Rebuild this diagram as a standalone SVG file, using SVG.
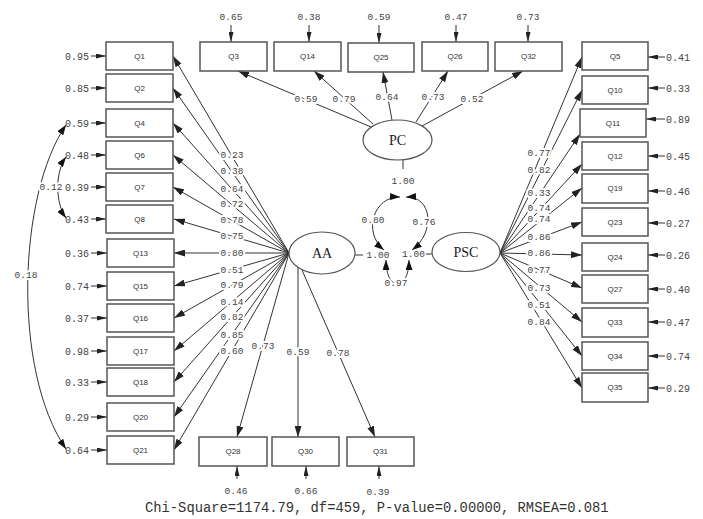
<svg xmlns="http://www.w3.org/2000/svg" width="703" height="519" viewBox="0 0 703 519">
  <style>
    .box { fill: #fff; stroke: #555; stroke-width: 1.5; }
    .lv { fill: #fff; stroke: #555; stroke-width: 1.2; }
    .bt { font-family: "Liberation Sans", Arial, sans-serif; font-size: 8px; fill: #333; text-anchor: middle; }
    .lt { font-family: "Liberation Serif", "Times New Roman", serif; font-size: 14px; fill: #222; text-anchor: middle; }
    .ln { fill: none; stroke: #333; stroke-width: 1; }
    .n { font-family: "Liberation Mono", "Courier New", monospace; font-size: 9.5px; fill: #444; text-anchor: middle; }
    .e { font-family: "Liberation Mono", "Courier New", monospace; font-size: 10px; fill: #444; }
    .h { paint-order: stroke; stroke: #fff; stroke-width: 4px; stroke-linejoin: round; }
    .fit { font-family: "Liberation Mono", "Courier New", monospace; font-size: 13.8px; fill: #333; }
  </style>
  <defs>
    <marker id="a" markerUnits="userSpaceOnUse" markerWidth="11" markerHeight="7" viewBox="0 0 11 7" refX="11" refY="3.5" orient="auto">
      <path d="M0,0 L11,3.5 L0,7 z" fill="#222"/>
    </marker>
    <marker id="s" markerUnits="userSpaceOnUse" markerWidth="10" markerHeight="5" viewBox="0 0 10 5" refX="10" refY="2.5" orient="auto">
      <path d="M0,0 L10,2.5 L0,5 z" fill="#222"/>
    </marker>
    <marker id="b" markerUnits="userSpaceOnUse" markerWidth="10" markerHeight="7" viewBox="0 0 10 7" refX="10" refY="3.5" orient="auto-start-reverse">
      <path d="M0,0 L10,3.5 L0,7 z" fill="#111"/>
    </marker>
  </defs>
  <rect width="703" height="519" fill="#fff"/>

  <g id="connectors">
    <!-- AA loadings -->
    <g class="ln" marker-end="url(#a)">
      <line x1="289" y1="253" x2="173" y2="56"/>
      <line x1="289" y1="253" x2="173" y2="88"/>
      <line x1="289" y1="253" x2="173" y2="123"/>
      <line x1="289" y1="253" x2="173" y2="155"/>
      <line x1="289" y1="253" x2="173" y2="187"/>
      <line x1="289" y1="253" x2="174" y2="219"/>
      <line x1="289" y1="253" x2="174" y2="253"/>
      <line x1="289" y1="253" x2="174" y2="286"/>
      <line x1="289" y1="253" x2="174" y2="318"/>
      <line x1="289" y1="253" x2="174" y2="351"/>
      <line x1="289" y1="253" x2="174" y2="382"/>
      <line x1="289" y1="253" x2="174" y2="417"/>
      <line x1="289" y1="253" x2="174" y2="450"/>
      <line x1="289" y1="253" x2="237" y2="437"/>
      <line x1="298" y1="267" x2="298" y2="437"/>
      <line x1="302" y1="270" x2="375" y2="437"/>
    </g>
    <!-- PC loadings -->
    <g class="ln" marker-end="url(#a)">
      <line x1="371" y1="127" x2="238" y2="71"/>
      <line x1="373" y1="124" x2="314" y2="71"/>
      <line x1="392" y1="120" x2="383" y2="72"/>
      <line x1="416" y1="122" x2="448" y2="71"/>
      <line x1="422" y1="126" x2="523" y2="71"/>
    </g>
    <!-- PSC loadings -->
    <g class="ln" marker-end="url(#a)">
      <line x1="500" y1="253" x2="582" y2="57"/>
      <line x1="500" y1="253" x2="582" y2="90"/>
      <line x1="500" y1="253" x2="580" y2="134"/>
      <line x1="500" y1="253" x2="582" y2="164"/>
      <line x1="500" y1="253" x2="582" y2="188"/>
      <line x1="500" y1="253" x2="582" y2="222"/>
      <line x1="500" y1="253" x2="582" y2="255"/>
      <line x1="500" y1="253" x2="582" y2="288"/>
      <line x1="500" y1="253" x2="582" y2="322"/>
      <line x1="500" y1="253" x2="582" y2="356"/>
      <line x1="500" y1="253" x2="582" y2="388"/>
    </g>
    <!-- error terms -->
    <g class="ln" marker-end="url(#s)">
      <line x1="91" y1="56" x2="106" y2="56"/>
      <line x1="91" y1="88" x2="106" y2="88"/>
      <line x1="91" y1="123" x2="106" y2="123"/>
      <line x1="91" y1="155" x2="106" y2="155"/>
      <line x1="91" y1="187" x2="106" y2="187"/>
      <line x1="91" y1="219" x2="106" y2="219"/>
      <line x1="91" y1="253" x2="107" y2="253"/>
      <line x1="91" y1="286" x2="107" y2="286"/>
      <line x1="91" y1="318" x2="107" y2="318"/>
      <line x1="91" y1="351" x2="107" y2="351"/>
      <line x1="91" y1="382" x2="107" y2="382"/>
      <line x1="91" y1="417" x2="107" y2="417"/>
      <line x1="91" y1="450" x2="107" y2="450"/>
      <line x1="231" y1="25" x2="231" y2="42"/>
      <line x1="309" y1="25" x2="309" y2="42"/>
      <line x1="379" y1="25" x2="379" y2="43"/>
      <line x1="456" y1="25" x2="456" y2="42"/>
      <line x1="528" y1="25" x2="528" y2="42"/>
      <line x1="665" y1="57" x2="648" y2="57"/>
      <line x1="665" y1="88" x2="648" y2="88"/>
      <line x1="665" y1="119" x2="646" y2="119"/>
      <line x1="665" y1="156" x2="648" y2="156"/>
      <line x1="665" y1="191" x2="648" y2="191"/>
      <line x1="665" y1="223" x2="648" y2="223"/>
      <line x1="665" y1="255" x2="648" y2="255"/>
      <line x1="665" y1="289" x2="648" y2="289"/>
      <line x1="665" y1="322" x2="648" y2="322"/>
      <line x1="665" y1="356" x2="648" y2="356"/>
      <line x1="665" y1="388" x2="648" y2="388"/>
      <line x1="237" y1="479" x2="237" y2="466"/>
      <line x1="306" y1="479" x2="306" y2="466"/>
      <line x1="379" y1="479" x2="379" y2="466"/>
    </g>
    <!-- factor variance stubs -->
    <line class="ln" x1="403" y1="160" x2="403" y2="169"/>
    <line class="ln" x1="355" y1="255" x2="363" y2="255"/>
    <line class="ln" x1="426" y1="254" x2="432" y2="254"/>

    <!-- loading values -->
    <g class="n h">
      <text x="232" y="158.4">0.23</text>
      <text x="232" y="174.4">0.38</text>
      <text x="232" y="192.4">0.64</text>
      <text x="232" y="207.4">0.72</text>
      <text x="232" y="223.4">0.78</text>
      <text x="232" y="239.4">0.75</text>
      <text x="232" y="256.4">0.80</text>
      <text x="232" y="273.4">0.51</text>
      <text x="232" y="288.4">0.79</text>
      <text x="232" y="305.4">0.14</text>
      <text x="232" y="320.4">0.82</text>
      <text x="232" y="338.4">0.85</text>
      <text x="232" y="354.4">0.60</text>
      <text x="263" y="349.4">0.73</text>
      <text x="298" y="355.4">0.59</text>
      <text x="338" y="356.4">0.78</text>
      <text x="306" y="102.4">0.59</text>
      <text x="344" y="102.4">0.79</text>
      <text x="387" y="100.4">0.64</text>
      <text x="433" y="100.4">0.73</text>
      <text x="472" y="102.4">0.52</text>
      <text x="539" y="156.4">0.77</text>
      <text x="539" y="173.4">0.82</text>
      <text x="539" y="196.4">0.33</text>
      <text x="539" y="211.4">0.74</text>
      <text x="539" y="222.4">0.74</text>
      <text x="539" y="240.4">0.86</text>
      <text x="539" y="256.4">0.86</text>
      <text x="539" y="273.4">0.77</text>
      <text x="539" y="291.4">0.73</text>
      <text x="539" y="308.4">0.51</text>
      <text x="539" y="325.4">0.84</text>
    </g>

    <!-- error variances -->
    <g class="e" text-anchor="end">
      <text x="89" y="59.5">0.95</text>
      <text x="89" y="91.5">0.85</text>
      <text x="89" y="126.5">0.59</text>
      <text x="89" y="158.5">0.48</text>
      <text x="89" y="190.5">0.39</text>
      <text x="89" y="222.5">0.43</text>
      <text x="89" y="256.5">0.36</text>
      <text x="89" y="289.5">0.74</text>
      <text x="89" y="321.5">0.37</text>
      <text x="89" y="354.5">0.98</text>
      <text x="89" y="385.5">0.33</text>
      <text x="89" y="420.5">0.29</text>
      <text x="89" y="453.5">0.64</text>
    </g>
    <g class="e">
      <text x="666" y="60.5">0.41</text>
      <text x="666" y="91.5">0.33</text>
      <text x="666" y="122.5">0.89</text>
      <text x="666" y="159.5">0.45</text>
      <text x="666" y="194.5">0.46</text>
      <text x="666" y="226.5">0.27</text>
      <text x="666" y="258.5">0.26</text>
      <text x="666" y="292.5">0.40</text>
      <text x="666" y="325.5">0.47</text>
      <text x="666" y="359.5">0.74</text>
      <text x="666" y="391.5">0.29</text>
    </g>
    <g class="n">
      <text x="231" y="20.4">0.65</text>
      <text x="309" y="20.4">0.38</text>
      <text x="379" y="20.4">0.59</text>
      <text x="456" y="20.4">0.47</text>
      <text x="528" y="20.4">0.73</text>
      <text x="236" y="494.4">0.46</text>
      <text x="306" y="494.4">0.66</text>
      <text x="378" y="495.4">0.39</text>
      <text x="403" y="184.4">1.00</text>
      <text x="378" y="258.4">1.00</text>
      <text x="413.5" y="257.4">1.00</text>
    </g>

    <!-- covariances -->
    <g class="ln" marker-start="url(#b)" marker-end="url(#b)">
      <path d="M66,125 C18,195 12,370 66,449"/>
      <path d="M66,157 C55,172 55,203 66,218"/>
      <path d="M400,197 C374,196 362,232 384,250"/>
      <path d="M406,197 C432,196 436,232 412,250"/>
      <path d="M386,260 C386,292 409,292 409,260"/>
    </g>
    <g class="n h">
      <text x="26" y="278.4">0.18</text>
      <text x="51" y="190.4">0.12</text>
      <text x="373" y="223.4">0.80</text>
      <text x="424" y="225.4">0.76</text>
      <text x="396" y="286.4">0.97</text>
    </g>
  </g>

  <!-- latent variables -->
  <g id="PC"><ellipse class="lv" cx="397.5" cy="140" rx="34.5" ry="20"/><text class="lt" x="397.5" y="145">PC</text></g>
  <g id="AA"><ellipse class="lv" cx="322" cy="253" rx="33" ry="21"/><text class="lt" x="322" y="258">AA</text></g>
  <g id="PSC"><ellipse class="lv" cx="466" cy="252" rx="34" ry="19.5"/><text class="lt" x="466" y="257">PSC</text></g>

  <!-- AA indicators -->
  <g id="Q1"><rect class="box" x="106" y="42" width="67" height="28"/><text class="bt" x="139.5" y="58.9">Q1</text></g>
  <g id="Q2"><rect class="box" x="106" y="74" width="67" height="28"/><text class="bt" x="139.5" y="90.9">Q2</text></g>
  <g id="Q4"><rect class="box" x="106" y="109" width="67" height="28"/><text class="bt" x="139.5" y="125.9">Q4</text></g>
  <g id="Q6"><rect class="box" x="106" y="141" width="67" height="28"/><text class="bt" x="139.5" y="157.9">Q6</text></g>
  <g id="Q7"><rect class="box" x="106" y="173" width="67" height="28"/><text class="bt" x="139.5" y="189.9">Q7</text></g>
  <g id="Q8"><rect class="box" x="106" y="205" width="67" height="28"/><text class="bt" x="139.5" y="221.9">Q8</text></g>
  <g id="Q13"><rect class="box" x="107" y="239" width="67" height="28"/><text class="bt" x="140.5" y="255.9">Q13</text></g>
  <g id="Q15"><rect class="box" x="107" y="272" width="67" height="28"/><text class="bt" x="140.5" y="288.9">Q15</text></g>
  <g id="Q16"><rect class="box" x="107" y="304" width="67" height="28"/><text class="bt" x="140.5" y="320.9">Q16</text></g>
  <g id="Q17"><rect class="box" x="107" y="337" width="67" height="28"/><text class="bt" x="140.5" y="353.9">Q17</text></g>
  <g id="Q18"><rect class="box" x="107" y="368" width="67" height="28"/><text class="bt" x="140.5" y="384.9">Q18</text></g>
  <g id="Q20"><rect class="box" x="107" y="403" width="67" height="28"/><text class="bt" x="140.5" y="419.9">Q20</text></g>
  <g id="Q21"><rect class="box" x="107" y="436" width="67" height="28"/><text class="bt" x="140.5" y="452.9">Q21</text></g>
  <g id="Q28"><rect class="box" x="199" y="437" width="68" height="29"/><text class="bt" x="233" y="454.4">Q28</text></g>
  <g id="Q30"><rect class="box" x="272" y="437" width="67" height="29"/><text class="bt" x="305.5" y="454.4">Q30</text></g>
  <g id="Q31"><rect class="box" x="347" y="437" width="67" height="29"/><text class="bt" x="380.5" y="454.4">Q31</text></g>

  <!-- PC indicators -->
  <g id="Q3"><rect class="box" x="200" y="42" width="67" height="29"/><text class="bt" x="233.5" y="59.4">Q3</text></g>
  <g id="Q14"><rect class="box" x="274" y="42" width="67" height="29"/><text class="bt" x="307.5" y="59.4">Q14</text></g>
  <g id="Q25"><rect class="box" x="348" y="43" width="66" height="29"/><text class="bt" x="381" y="60.4">Q25</text></g>
  <g id="Q26"><rect class="box" x="422" y="42" width="66" height="29"/><text class="bt" x="455" y="59.4">Q26</text></g>
  <g id="Q32"><rect class="box" x="495" y="42" width="67" height="29"/><text class="bt" x="528.5" y="59.4">Q32</text></g>

  <!-- PSC indicators -->
  <g id="Q5"><rect class="box" x="582" y="42" width="66" height="28"/><text class="bt" x="615" y="58.9">Q5</text></g>
  <g id="Q10"><rect class="box" x="582" y="76" width="66" height="28"/><text class="bt" x="615" y="92.9">Q10</text></g>
  <g id="Q11"><rect class="box" x="580" y="109" width="66" height="28"/><text class="bt" x="613" y="125.9">Q11</text></g>
  <g id="Q12"><rect class="box" x="582" y="142" width="66" height="28"/><text class="bt" x="615" y="158.9">Q12</text></g>
  <g id="Q19"><rect class="box" x="582" y="174" width="66" height="29"/><text class="bt" x="615" y="191.4">Q19</text></g>
  <g id="Q23"><rect class="box" x="582" y="208" width="66" height="28"/><text class="bt" x="615" y="224.9">Q23</text></g>
  <g id="Q24"><rect class="box" x="582" y="243" width="66" height="28"/><text class="bt" x="615" y="259.9">Q24</text></g>
  <g id="Q27"><rect class="box" x="582" y="275" width="66" height="28"/><text class="bt" x="615" y="291.9">Q27</text></g>
  <g id="Q33"><rect class="box" x="582" y="308" width="66" height="29"/><text class="bt" x="615" y="325.4">Q33</text></g>
  <g id="Q34"><rect class="box" x="582" y="342" width="66" height="28"/><text class="bt" x="615" y="358.9">Q34</text></g>
  <g id="Q35"><rect class="box" x="582" y="373" width="66" height="29"/><text class="bt" x="615" y="390.4">Q35</text></g>

  <!-- fit statistics -->
  <text class="fit" x="145" y="512">Chi-Square=1174.79, df=459, P-value=0.00000, RMSEA=0.081</text>
</svg>
